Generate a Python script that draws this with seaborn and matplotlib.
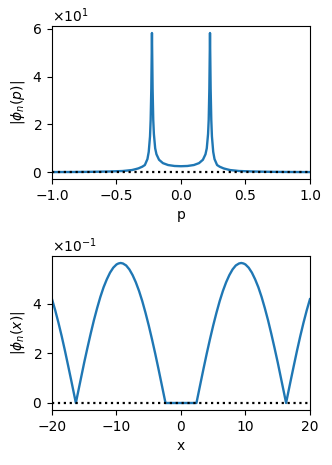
import matplotlib
matplotlib.use("Agg")
import matplotlib.pyplot as plt
import seaborn as sns
import pandas as pd

# Momentum-space amplitude, p >= 0 half, mirrored below
p_pos = [0.0, 0.05, 0.10, 0.14, 0.17, 0.19, 0.20, 0.21, 0.215, 0.22, 0.225,
         0.23, 0.235, 0.24, 0.25, 0.26, 0.28, 0.30, 0.33, 0.35, 0.38, 0.45,
         0.55, 0.70, 0.85, 1.0]
phi_p_pos = [2.5, 2.6, 3.0, 3.8, 5.2, 7.5, 10.0, 16.0, 22.0, 35.0, 58.3,
             35.0, 22.0, 15.0, 8.5, 5.5, 3.0, 2.3, 1.6, 1.3, 0.9, 0.5,
             0.3, 0.15, 0.08, 0.05]

# Position-space amplitude, x >= 0 half, mirrored below
x_pos = [0, 1, 2, 2.4, 3, 3.5, 4, 4.5, 5, 5.5, 6, 6.5, 7, 7.5, 8, 8.5, 9,
         9.35, 9.7, 10, 10.5, 11, 11.5, 12, 12.5, 13, 13.5, 14, 14.5, 15,
         15.5, 16, 16.3, 16.7, 17, 17.5, 18, 18.5, 19, 19.5, 20]
phi_x_pos = [0.0, 0.0, 0.0, 0.0, 0.076, 0.139, 0.200, 0.258, 0.313, 0.364,
             0.411, 0.452, 0.487, 0.516, 0.539, 0.555, 0.563, 0.565, 0.563,
             0.559, 0.546, 0.526, 0.499, 0.467, 0.428, 0.383, 0.334, 0.280,
             0.223, 0.164, 0.101, 0.038, 0.0, 0.051, 0.089, 0.151, 0.212,
             0.270, 0.324, 0.374, 0.419]

p_vals = [-v for v in p_pos[:0:-1]] + p_pos
phi_p = phi_p_pos[:0:-1] + phi_p_pos
x_vals = [-v for v in x_pos[:0:-1]] + x_pos
phi_x = phi_x_pos[:0:-1] + phi_x_pos

df_p = pd.DataFrame({"p": p_vals, "phi": phi_p})
df_x = pd.DataFrame({"x": x_vals, "phi": phi_x})

fig = plt.figure(figsize=(3.32, 4.65), dpi=100)
ax1 = fig.add_axes([0.1566, 0.615, 0.777, 0.329])
ax2 = fig.add_axes([0.1566, 0.1183, 0.777, 0.3312])

blue = "#1f77b4"

sns.lineplot(data=df_p, x="p", y="phi", ax=ax1, color=blue, lw=1.7)
ax1.axhline(0, color="black", ls=":", lw=1.6, zorder=3)
ax1.set_xlim(-1, 1)
ax1.set_xticks([-1.0, -0.5, 0.0, 0.5, 1.0])
ax1.set_yticks([0, 20, 40, 60])
ax1.ticklabel_format(axis="y", style="sci", scilimits=(0, 0), useMathText=True)
ax1.set_xlabel("p")
ax1.set_ylabel(r"$|\phi_n(p)|$")

sns.lineplot(data=df_x, x="x", y="phi", ax=ax2, color=blue, lw=1.7)
ax2.axhline(0, color="black", ls=":", lw=1.6, zorder=3)
ax2.set_xlim(-20, 20)
ax2.set_xticks([-20, -10, 0, 10, 20])
ax2.set_yticks([0, 0.2, 0.4])
ax2.ticklabel_format(axis="y", style="sci", scilimits=(0, 0), useMathText=True)
ax2.set_xlabel("x")
ax2.set_ylabel(r"$|\phi_n(x)|$")

fig.savefig("out.png", dpi=100)
